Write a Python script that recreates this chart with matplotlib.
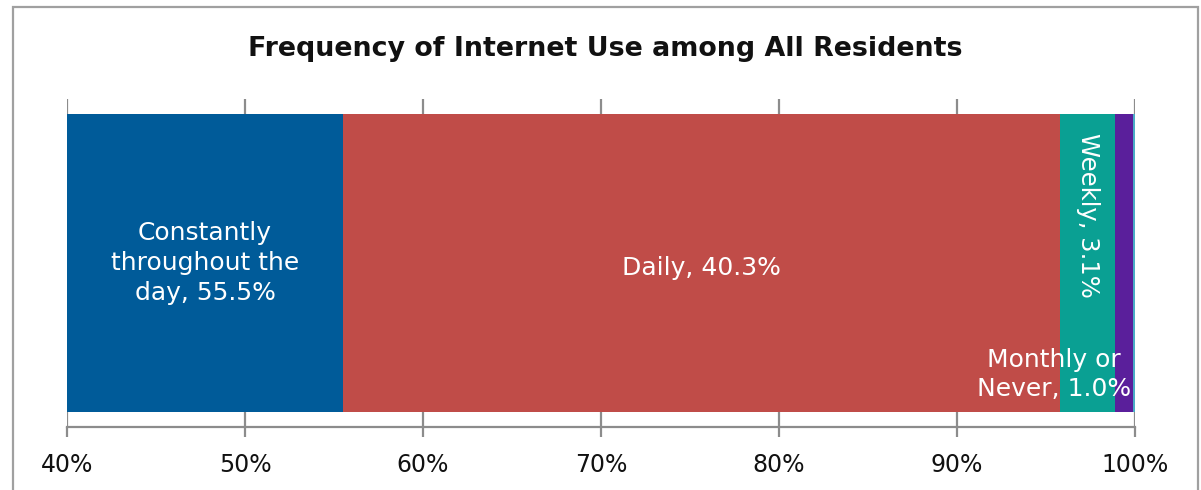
import matplotlib
matplotlib.use("Agg")
import matplotlib.pyplot as plt
from matplotlib.patches import Rectangle

categories = ["Constantly throughout the day", "Daily", "Weekly", "Monthly or Never", "Other"]
values = [55.5, 40.3, 3.1, 1.0, 0.1]
colors = ["#005B99", "#C04C48", "#0AA093", "#5A1F9B", "#4BACC6"]
tick_values = [40, 50, 60, 70, 80, 90, 100]
tick_labels = ["40%", "50%", "60%", "70%", "80%", "90%", "100%"]
title = "Frequency of Internet Use among All Residents"

plt.rcParams['font.family'] = ['DejaVu Sans']

fig = plt.figure(figsize=(12.01, 4.90), dpi=100)
ax = fig.add_axes([0.05579, 0.12857, 0.88926, 0.66939])

left = 0
for v, c in zip(values, colors):
    ax.barh(0, v, left=left, height=0.9085, color=c, zorder=2)
    left += v

ax.set_xlim(40, 100)
ax.set_ylim(-0.5, 0.5)
ax.set_xticks(tick_values)
ax.set_xticklabels(tick_labels, fontsize=17, color="#111111")
ax.set_yticks([])
ax.grid(axis="x", color="#8c8c8c", linewidth=1.6, zorder=0)
for s in ["top", "left", "right"]:
    ax.spines[s].set_visible(False)
ax.spines["bottom"].set_color("#8c8c8c")
ax.spines["bottom"].set_linewidth(1.6)
ax.tick_params(axis="x", direction="out", length=7, width=1.6, color="#8c8c8c", pad=12)

# labels
ax.text((40 + values[0]) / 2, 0, "Constantly\nthroughout the\nday, 55.5%", ha="center", va="center",
        color="white", fontsize=18, linespacing=1.3, zorder=3)
ax.text(values[0] + values[1] / 2, -0.015, "Daily, 40.3%", ha="center", va="center",
        color="white", fontsize=18, zorder=3)
s = values[0] + values[1]
ax.text(s + values[2] / 2, 0.146, "Weekly, 3.1%", ha="center", va="center", rotation=-90,
        color="white", fontsize=17.5, zorder=3)
ax.text(95.45, -0.34, "Monthly or\nNever, 1.0%", ha="center", va="center",
        color="white", fontsize=18, linespacing=1.3, zorder=3)

fig.text(0.504, 0.9, title, ha="center", va="center", fontsize=19.4, fontweight="bold", color="#111111")

fig.add_artist(Rectangle((13 / 1201, -0.1), (1198 - 13) / 1201, 1.1 - 7 / 490,
                         transform=fig.transFigure, fill=False, edgecolor="#a0a0a0", linewidth=1.6))

fig.savefig("out.png", dpi=100)
